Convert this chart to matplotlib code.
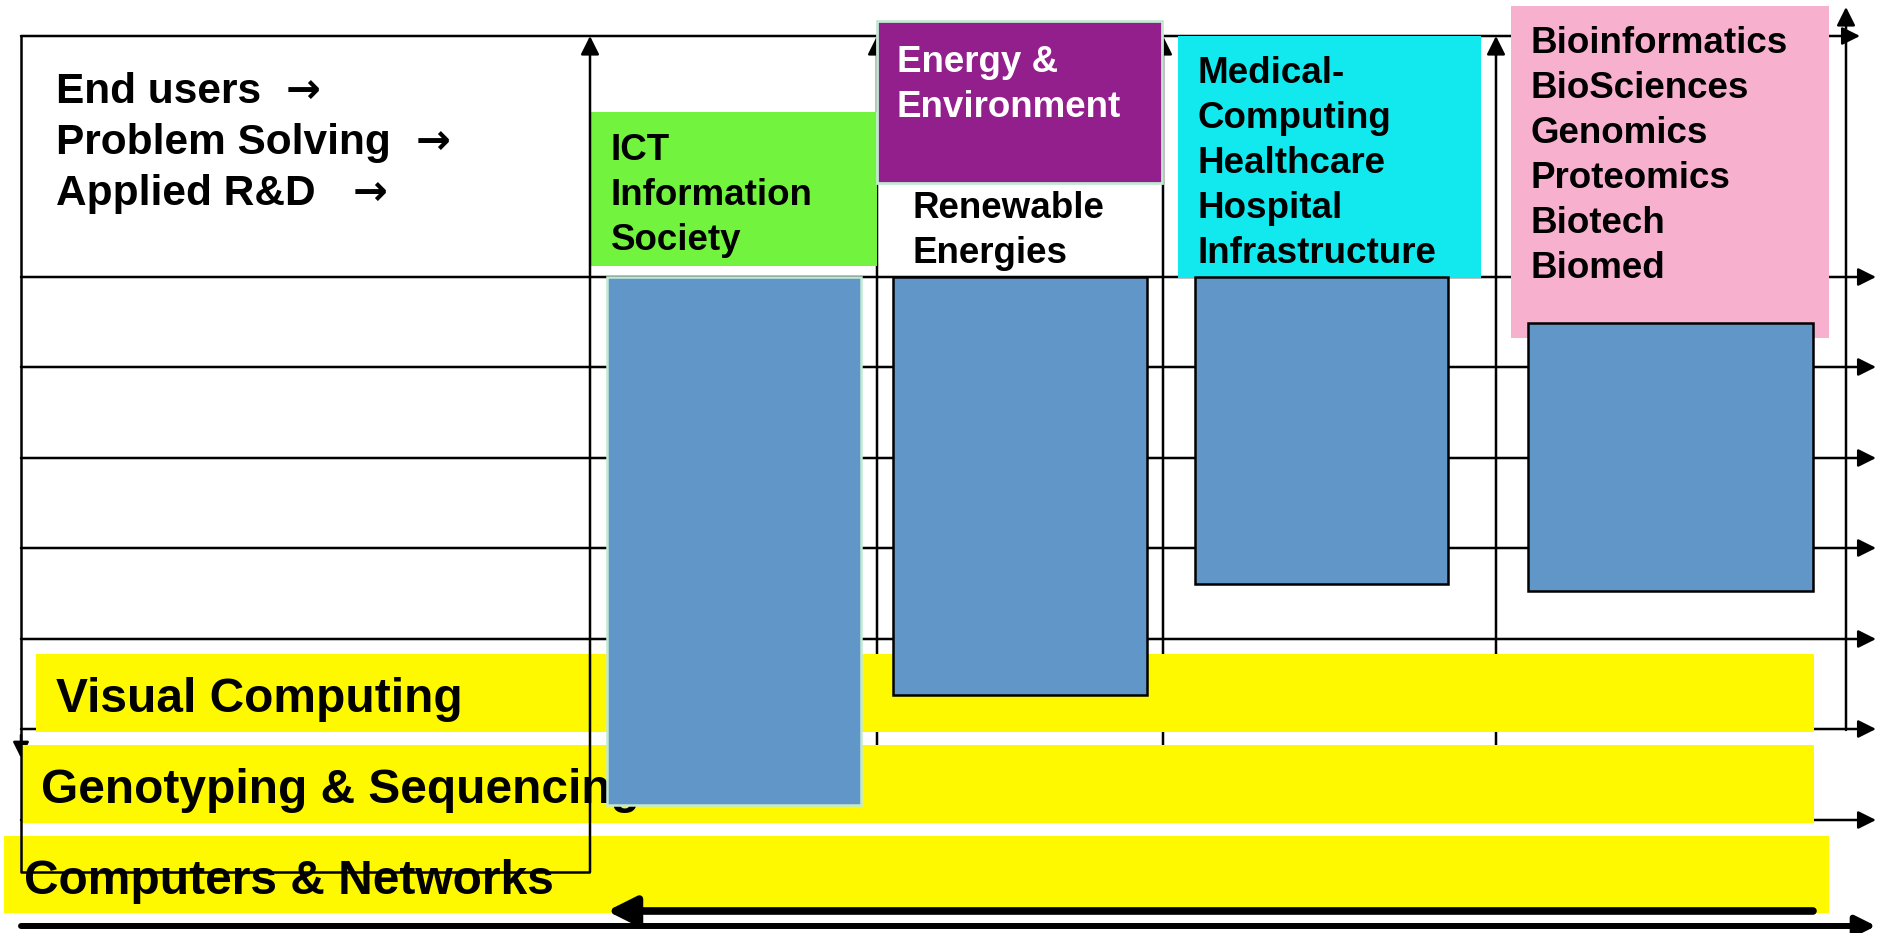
import matplotlib.pyplot as plt
from matplotlib.patches import FancyArrowPatch

plt.rcParams["font.family"] = ["Liberation Sans", "DejaVu Sans"]
plt.rcParams["font.weight"] = "bold"

# left header box
header_lines = ["End users", "Problem Solving", "Applied R&D"]
header_arrow_x = [289, 419, 356]

# application columns (top labels)
column_labels = [
    ["ICT", "Information", "Society"],
    ["Energy &", "Environment"],
    ["Medical-", "Computing", "Healthcare", "Hospital", "Infrastructure"],
    ["Bioinformatics", "BioSciences", "Genomics", "Proteomics", "Biotech", "Biomed"],
]
column_colors = ["#72F43F", "#931F8D", "#11E9EE", "#F7B1CF"]
column_text_colors = ["black", "white", "black", "black"]
label_left = [591, 877, 1178, 1511]
label_right = [877, 1162, 1481, 1829]
label_top = [112, 21, 36, 6]
label_bottom = [266, 183, 278, 338]
label_first_line = [48, 51, 47, 47]
sub_label = ["Renewable", "Energies"]

# blue application blocks
block_left = [607, 893, 1195, 1528]
block_right = [861, 1147, 1448, 1813]
block_top = [277, 277, 277, 323]
block_bottom = [805, 695, 584, 591]
block_edges = ["#C3E9D3", "black", "black", "black"]

# yellow technology bands
band_labels = ["Visual Computing", "Genotyping & Sequencing", "Computers & Networks"]
band_left = [36, 21, 4]
band_right = [1814, 1814, 1829]
band_top = [654, 745, 836]
band_bottom = [732, 823, 913]

# grid
row_lines = [277, 367, 458, 548, 639, 729, 820]
lane_lines = [877, 1163, 1496]

W, H = 1877, 933
fig = plt.figure(figsize=(W / 100, H / 100), dpi=100)
ax = fig.add_axes([0, 0, 1, 1])
ax.set_xlim(0, W)
ax.set_ylim(H, 0)
ax.axis("off")


def arrow(x0, y0, x1, y1, lw=1.8, scale=27, z=1):
    ax.add_patch(FancyArrowPatch((x0, y0), (x1, y1),
                                 arrowstyle="-|>,head_length=0.4,head_width=0.2",
                                 mutation_scale=scale, lw=lw, color="black",
                                 shrinkA=0, shrinkB=0, zorder=z))


# frame and grid lines (behind everything)
arrow(21, 36, 1860, 36)
for y in row_lines:
    arrow(21, y, 1876, y)
for x in lane_lines:
    arrow(x, 770, x, 36, scale=28)
arrow(1846, 730, 1846, 7, scale=28)
arrow(21, 735, 21, 758, scale=24, z=2.5)

# left header texts
for i, t in enumerate(header_lines):
    y = 103 + i * 51
    ax.text(56, y, t, fontsize=30.5, va="baseline", ha="left", zorder=2)
    ax.text(header_arrow_x[i] - 3, y, "\u2192", fontsize=30, family="DejaVu Sans",
            va="baseline", ha="left", zorder=2)

# coloured column labels
for i, lines in enumerate(column_labels):
    ax.bar(label_left[i], label_bottom[i] - label_top[i], bottom=label_top[i],
           width=label_right[i] - label_left[i], align="edge",
           color=column_colors[i], zorder=2,
           edgecolor="#C3E9D3" if i == 1 else column_colors[i], lw=2 if i == 1 else 0)
    for j, t in enumerate(lines):
        ax.text(label_left[i] + 20, label_top[i] + label_first_line[i] + j * 45, t,
                fontsize=26.5, color=column_text_colors[i],
                va="baseline", ha="left", zorder=2.2)
for j, t in enumerate(sub_label):
    ax.text(913, 218 + j * 45, t, fontsize=26.5, va="baseline", ha="left", zorder=2.2)

# yellow bands
for i, t in enumerate(band_labels):
    ax.barh(band_top[i], band_right[i] - band_left[i], left=band_left[i],
            height=band_bottom[i] - band_top[i], align="edge",
            color="#FFF900", lw=0, zorder=3)
    ax.text(band_left[i] + 20, band_top[i] + 58, t, fontsize=34.5,
            va="baseline", ha="left", zorder=3.5)

# blue blocks
for i in range(len(block_left)):
    ax.bar(block_left[i], block_bottom[i] - block_top[i], bottom=block_top[i],
           width=block_right[i] - block_left[i], align="edge",
           color="#6196C8", edgecolor=block_edges[i], lw=1.8, zorder=4)

# outlined left box drawn on top of bands
ax.plot([21, 21, 590], [36, 872, 872], color="black", lw=1.8, zorder=5,
        solid_capstyle="butt")
arrow(590, 872, 590, 36, scale=28, z=5)

# bottom arrows
arrow(1813, 911, 607, 911, lw=5.5, scale=43, z=5)
arrow(21, 926, 1876, 926, lw=4.3, scale=30, z=5)

fig.savefig("out.png", dpi=100)
